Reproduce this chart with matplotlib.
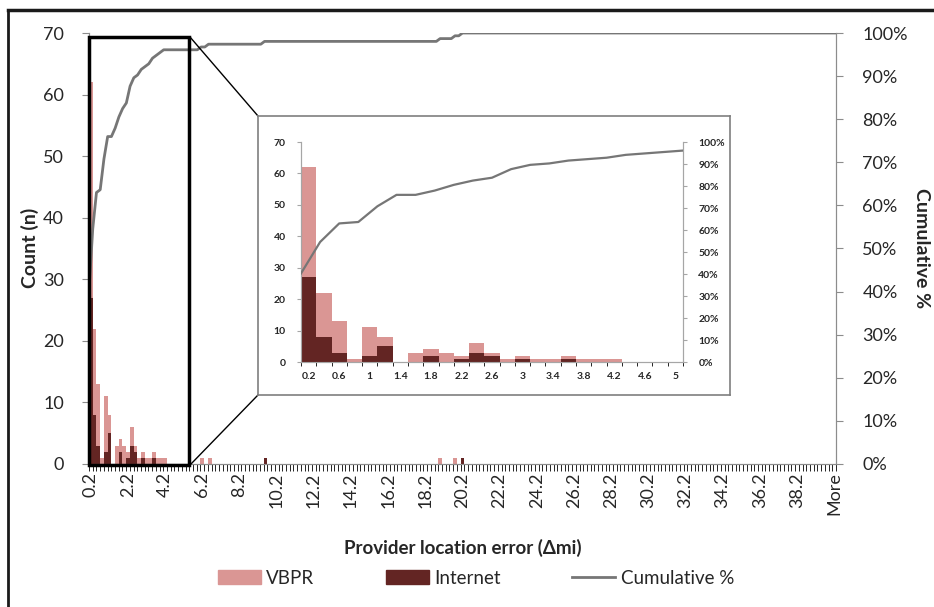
"""
Provider location error histogram (VBPR vs Internet) with cumulative % and a zoomed inset
"""
import numpy as np
import matplotlib
matplotlib.use('Agg')
import matplotlib.pyplot as plt
from matplotlib.patches import Rectangle, Patch
from matplotlib.lines import Line2D

plt.rcParams['font.family'] = ['Lato', 'DejaVu Sans']

# bins of 0.2 mi up to 40.0, then "More"
bins = [f'{0.2 * k:.1f}' for k in range(1, 201)] + ['More']
main_tick_labels = ['0.2', '2.2', '4.2', '6.2', '8.2', '10.2', '12.2', '14.2', '16.2', '18.2', '20.2',
                    '22.2', '24.2', '26.2', '28.2', '30.2', '32.2', '34.2', '36.2', '38.2', 'More']

# counts for the first 25 bins (0.2 .. 5.0)
inset_labels = ['0.2', '0.6', '1', '1.4', '1.8', '2.2', '2.6', '3', '3.4', '3.8', '4.2', '4.6', '5']
inset_vbpr = [62, 22, 13, 1, 11, 8, 0, 3, 4, 3, 2, 6, 3, 1, 2, 1, 1, 2, 1, 1, 1, 0, 0, 0, 0]
inset_internet = [27, 8, 3, 0, 2, 5, 0, 0, 2, 0, 1, 3, 2, 0, 1, 0, 0, 1, 0, 0, 0, 0, 0, 0, 0]

# the few counts further out
far_vbpr_bins = ['6.2', '6.6', '9.6', '19.0', '19.8', '20.2']
far_vbpr = [1, 1, 1, 1, 1, 1]
far_internet_bins = ['9.6', '20.2']
far_internet = [1, 1]

vbpr = np.zeros(len(bins))
internet = np.zeros(len(bins))
vbpr[:25] = inset_vbpr
internet[:25] = inset_internet
for b, v in zip(far_vbpr_bins, far_vbpr):
    vbpr[bins.index(b)] = v
for b, v in zip(far_internet_bins, far_internet):
    internet[bins.index(b)] = v
cum_pct = np.cumsum(vbpr) / vbpr.sum() * 100

PINK = '#DA9694'
DARK = '#632523'
LINE = '#767676'
AXC = '#8C8C8C'
TXT = '#262626'

W, H = 934, 607
fig = plt.figure(figsize=(W / 100, H / 100), dpi=100)


def fx(px):
    return px / W


def fy(py):
    return 1 - py / H


def style_axes(a, color=AXC):
    for s in a.spines.values():
        s.set_color(color)
    a.tick_params(colors=color, labelcolor=TXT)


# ---- main chart ----
x = np.arange(len(bins))
ax = fig.add_axes([fx(89), fy(464), 747 / W, 431 / H])
ax.bar(x, vbpr, width=1, color=PINK, zorder=2)
ax.bar(x, internet, width=1, color=DARK, zorder=3)
ax.set_xlim(-0.5, len(bins) - 0.5)
ax.set_ylim(0, 70)
ax.set_yticks(range(0, 71, 10))
ax.set_xticks(np.arange(0, len(bins), 10))
ax.set_xticklabels(main_tick_labels, rotation=90, fontsize=13)
ax.set_xticks(np.arange(-0.5, len(bins), 1), minor=True)
ax.tick_params(axis='x', which='major', length=0, pad=6)
ax.tick_params(axis='x', which='minor', length=5, width=0.6)
ax.tick_params(axis='y', labelsize=13, length=5, pad=13)
ax.spines['top'].set_visible(False)
style_axes(ax)

ax2 = ax.twinx()
ax2.set_ylim(0, 100)
ax2.set_yticks(range(0, 101, 10))
ax2.set_yticklabels([f'{v}%' for v in range(0, 101, 10)])
ax2.tick_params(axis='y', labelsize=13, length=5, pad=14)
ax2.spines['top'].set_visible(False)
style_axes(ax2)

ax3 = ax2.twiny()
ax3.set_xlim(0, len(bins) - 1)
ax3.plot(x, cum_pct, color=LINE, lw=2, zorder=4)
ax3.axis('off')

fig.text(fx(30), fy(248), 'Count (n)', rotation=90, ha='center', va='center',
         fontsize=14, fontweight='bold', color=TXT)
fig.text(fx(922), fy(248), 'Cumulative %', rotation=-90, ha='center', va='center',
         fontsize=14, fontweight='bold', color=TXT)
fig.text(fx(463), fy(548), 'Provider location error (\u0394mi)', ha='center', va='center',
         fontsize=13.5, fontweight='bold', color=TXT)

# zoom box and connector lines
fig.add_artist(Rectangle((fx(89), fy(465)), 100 / W, 428 / H, transform=fig.transFigure,
                         fill=False, lw=2.5, ec='black', zorder=5))
fig.add_artist(Line2D([fx(190), fx(258)], [fy(37), fy(116)], color='black', lw=1, zorder=5))
fig.add_artist(Line2D([fx(190), fx(258)], [fy(465), fy(395)], color='black', lw=1, zorder=5))

# ---- inset ----
frame = fig.add_axes([fx(258), fy(395), 472 / W, 279 / H], zorder=6)
frame.set_xticks([])
frame.set_yticks([])
for s in frame.spines.values():
    s.set_color('#7F7F7F')
    s.set_linewidth(1.2)

xi = np.arange(25)
iax = fig.add_axes([fx(301), fy(362), 382 / W, 220 / H], zorder=7)
iax.patch.set_alpha(0)
iax.bar(xi, inset_vbpr, width=1, color=PINK, zorder=2)
iax.bar(xi, inset_internet, width=1, color=DARK, zorder=3)
iax.set_xlim(-0.5, 24.5)
iax.set_ylim(0, 70)
iax.set_yticks(range(0, 71, 10))
iax.set_xticks(np.arange(0, 25, 2))
iax.set_xticklabels(inset_labels)
iax.set_xticks(np.arange(-0.5, 25, 1), minor=True)
iax.tick_params(axis='x', which='major', length=0, pad=7)
iax.tick_params(axis='x', which='minor', length=3, width=0.6)
iax.tick_params(axis='both', which='major', labelsize=7.5)
iax.tick_params(axis='y', length=3, pad=8)
for lab in iax.get_xticklabels() + iax.get_yticklabels():
    lab.set_fontweight('bold')
iax.spines['top'].set_visible(False)
style_axes(iax, '#A6A6A6')

iax2 = iax.twinx()
iax2.set_ylim(0, 100)
iax2.set_yticks(range(0, 101, 10))
iax2.set_yticklabels([f'{v}%' for v in range(0, 101, 10)], fontsize=7.5, fontweight='bold')
iax2.tick_params(axis='y', length=3, pad=8)
iax2.spines['top'].set_visible(False)
style_axes(iax2, '#A6A6A6')

iax3 = iax2.twiny()
iax3.set_xlim(0, 20)
iax3.plot(np.arange(21), cum_pct[:21], color=LINE, lw=1.6)
iax3.axis('off')

# legend
handles = [Patch(color=PINK), Patch(color=DARK), Line2D([], [], color=LINE, lw=2)]
fig.legend(handles, ['VBPR', 'Internet', 'Cumulative %'], loc='center', ncol=3,
           bbox_to_anchor=(fx(476), fy(578)), frameon=False, fontsize=13.5,
           handlelength=2.3, handletextpad=0.3, columnspacing=3.8, labelcolor=TXT)

# outer frame (only top and left edges show)
fig.add_artist(Line2D([fx(8), 1], [fy(10), fy(10)], color='#1A1A1A', lw=2.5))
fig.add_artist(Line2D([fx(8), fx(8)], [fy(10), 0], color='#1A1A1A', lw=2))

fig.savefig('out.png', dpi=100)
